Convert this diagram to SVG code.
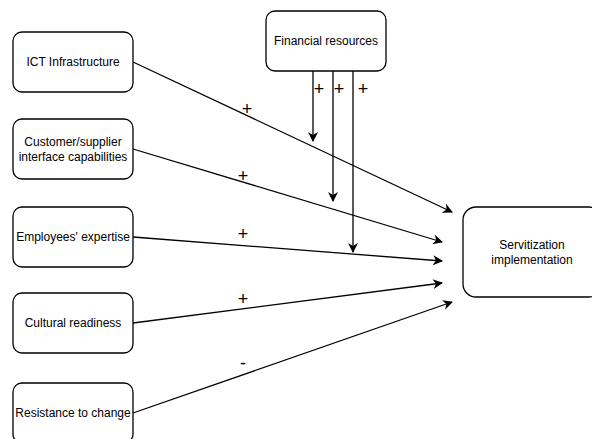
<svg xmlns="http://www.w3.org/2000/svg" width="592" height="439" viewBox="0 0 592 439">
<defs>
<style>
.box{fill:#fff;stroke:#000;stroke-width:1.3}
.t{font-family:"Liberation Sans",Arial,sans-serif;font-size:12px;fill:#000;text-anchor:middle}
.s{font-family:"Liberation Sans",Arial,sans-serif;font-size:18px;fill:#000;text-anchor:middle}
.c{stroke:#000;stroke-width:1.3;fill:none;marker-end:url(#ah)}
</style>
<marker id="ah" viewBox="0 0 10 10" refX="9" refY="5" markerWidth="10" markerHeight="10" markerUnits="userSpaceOnUse" orient="auto">
<path d="M0,0 L10,5 L0,10 L3,5 Z" fill="#000"/>
</marker>
</defs>
<rect width="592" height="439" fill="#fff"/>
<g id="connectors">
<line class="c" x1="133" y1="62" x2="452" y2="212"/>
<line class="c" x1="133" y1="149" x2="442" y2="242"/>
<line class="c" x1="133" y1="237" x2="442" y2="261"/>
<line class="c" x1="133" y1="323" x2="442" y2="283"/>
<line class="c" x1="133" y1="413" x2="452" y2="302"/>
<line class="c" x1="313" y1="71" x2="313" y2="141"/>
<line class="c" x1="333" y1="71" x2="333" y2="201"/>
<line class="c" x1="353" y1="71" x2="353" y2="252"/>
<text class="s" x="247" y="115">+</text>
<text class="s" x="243" y="182">+</text>
<text class="s" x="243" y="240">+</text>
<text class="s" x="243" y="305">+</text>
<text class="s" x="243" y="369">-</text>
<text class="s" x="319" y="95">+</text>
<text class="s" x="339" y="95">+</text>
<text class="s" x="363" y="95">+</text>
</g>
<g id="ict"><rect class="box" x="13" y="32" width="120" height="60" rx="9"/><text class="t" x="73" y="66">ICT Infrastructure</text></g>
<g id="customer"><rect class="box" x="13" y="119" width="120" height="60" rx="9"/><text class="t" x="73" y="146">Customer/supplier</text><text class="t" x="73" y="161">interface capabilities</text></g>
<g id="employees"><rect class="box" x="13" y="207" width="120" height="60" rx="9"/><text class="t" x="73" y="241">Employees' expertise</text></g>
<g id="cultural"><rect class="box" x="13" y="293" width="120" height="60" rx="9"/><text class="t" x="73" y="327">Cultural readiness</text></g>
<g id="resistance"><rect class="box" x="13" y="383" width="120" height="60" rx="9"/><text class="t" x="73" y="417">Resistance to change</text></g>
<g id="financial"><rect class="box" x="266" y="11" width="120" height="60" rx="9"/><text class="t" x="326" y="45">Financial resources</text></g>
<g id="servitization"><rect class="box" x="463" y="207" width="139" height="90" rx="13"/><text class="t" x="532" y="249">Servitization</text><text class="t" x="532" y="264">implementation</text></g>
</svg>
